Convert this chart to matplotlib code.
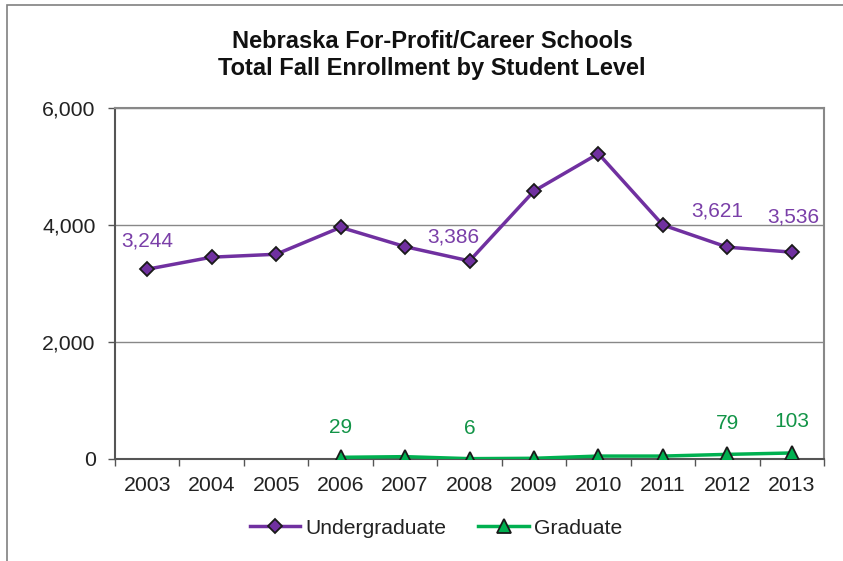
import numpy as np
import matplotlib
matplotlib.use("Agg")
import matplotlib.pyplot as plt
from matplotlib.patches import Rectangle

plt.rcParams["font.family"] = ["Liberation Sans", "DejaVu Sans"]

years = [2003, 2004, 2005, 2006, 2007, 2008, 2009, 2010, 2011, 2012, 2013]
undergrad = [3244, 3450, 3500, 3960, 3630, 3386, 4580, 5220, 4000, 3621, 3536]
graduate = [np.nan, np.nan, np.nan, 29, 40, 6, 12, 50, 50, 79, 103]

# which points carry a value label
ug_labels = {2003: "3,244", 2008: "3,386", 2012: "3,621", 2013: "3,536"}
gr_labels = {2006: "29", 2008: "6", 2012: "79", 2013: "103"}

# label offsets in points (placement only)
ug_offsets = {2003: (0, 20), 2008: (-11.5, 17.3), 2012: (-7.2, 26), 2013: (1.4, 25)}
gr_offsets = {2006: (0, 21.6), 2008: (0, 21.6), 2012: (0, 22.3), 2013: (0, 23)}

purple = "#7030A0"
green = "#00B050"
label_purple = "#7A3FA8"
label_green = "#129447"

fig = plt.figure(figsize=(8.43, 5.61), dpi=100)
W, H = 843, 561
ax = fig.add_axes([115 / W, 1 - 459 / H, (824 - 115) / W, (459 - 108) / H])

# outer chart frame (cropped at right/bottom)
fig.patches.append(Rectangle((7 / W, -0.1), 1.2, 1 - 5 / H + 0.1, transform=fig.transFigure,
                             fill=False, edgecolor="#808080", linewidth=1.2))

x = np.arange(len(years))
ax.plot(x, undergrad, color=purple, linewidth=2.5, marker="D", markersize=7.5,
        markerfacecolor=purple, markeredgecolor="#1a1a1a", markeredgewidth=1.3,
        label="Undergraduate", zorder=3)
ax.plot(x, graduate, color=green, linewidth=2.5, marker="^", markersize=10,
        markerfacecolor=green, markeredgecolor="#1a1a1a", markeredgewidth=1.3,
        label="Graduate", zorder=3)

for i, yr in enumerate(years):
    if yr in ug_labels:
        ax.annotate(ug_labels[yr], (x[i], undergrad[i]), xytext=ug_offsets[yr],
                    textcoords="offset points", ha="center", va="center",
                    fontsize=15, color=label_purple)
    if yr in gr_labels:
        ax.annotate(gr_labels[yr], (x[i], graduate[i]), xytext=gr_offsets[yr],
                    textcoords="offset points", ha="center", va="center",
                    fontsize=15, color=label_green)

ax.set_xlim(-0.5, len(years) - 0.5)
ax.set_ylim(0, 6000)
ax.set_yticks([0, 2000, 4000, 6000])
ax.set_yticklabels(["0", "2,000", "4,000", "6,000"])
ax.set_xticks(x)
ax.set_xticklabels([str(y) for y in years])
ax.set_xticks(np.arange(-0.5, len(years)), minor=True)
ax.tick_params(axis="x", which="major", length=0, pad=12, labelsize=15.3, labelcolor="#222222")
ax.tick_params(axis="x", which="minor", length=5, color="#555555", width=1)
ax.tick_params(axis="y", length=5, color="#555555", width=1, pad=9,
               labelsize=15.3, labelcolor="#222222")

ax.grid(True, axis="y", color="#888888", linewidth=1)
ax.set_axisbelow(True)
for side in ["top", "right"]:
    ax.spines[side].set_color("#888888")
    ax.spines[side].set_linewidth(1.5)
for side in ["left", "bottom"]:
    ax.spines[side].set_color("#555555")
    ax.spines[side].set_linewidth(1.5)

fig.text(432 / W, 1 - 55 / H, "Nebraska For-Profit/Career Schools\nTotal Fall Enrollment by Student Level",
         ha="center", va="center", fontsize=17, fontweight="bold", linespacing=1.2,
         color="#111111")

fig.legend(loc="center", bbox_to_anchor=(436 / W, 1 - 528 / H), ncol=2, frameon=False,
           fontsize=15.2, handlelength=2.4, columnspacing=1.5, handletextpad=0.25,
           labelcolor="#222222")

fig.savefig("out.png", dpi=100)
